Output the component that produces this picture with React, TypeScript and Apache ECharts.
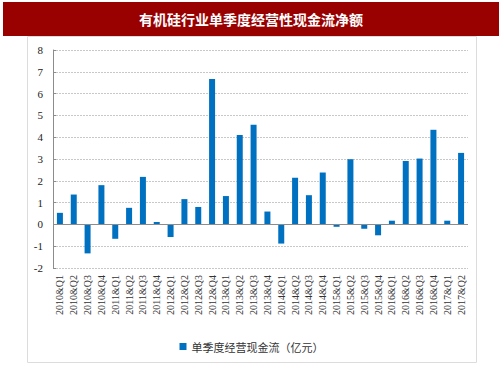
import React, { useEffect, useRef } from "react";
import * as echarts from "echarts";

const categories = [
  "2010&Q1", "2010&Q2", "2010&Q3", "2010&Q4",
  "2011&Q1", "2011&Q2", "2011&Q3", "2011&Q4",
  "2012&Q1", "2012&Q2", "2012&Q3", "2012&Q4",
  "2013&Q1", "2013&Q2", "2013&Q3", "2013&Q4",
  "2014&Q1", "2014&Q2", "2014&Q3", "2014&Q4",
  "2015&Q1", "2015&Q2", "2015&Q3", "2015&Q4",
  "2016&Q1", "2016&Q2", "2016&Q3", "2016&Q4",
  "2017&Q1", "2017&Q2",
];

const cashFlow = [
  0.53, 1.37, -1.33, 1.8,
  -0.66, 0.76, 2.18, 0.11,
  -0.58, 1.16, 0.8, 6.67,
  1.3, 4.1, 4.57, 0.59,
  -0.88, 2.14, 1.34, 2.38,
  -0.11, 2.99, -0.2, -0.5,
  0.17, 2.91, 3.02, 4.34,
  0.17, 3.28,
];

const seriesName = "单季度经营现金流（亿元）";
const title = "有机硅行业单季度经营性现金流净额";

export default function App() {
  const ref = useRef<HTMLDivElement>(null);
  useEffect(() => {
    if (!ref.current) return;
    const chart = echarts.init(ref.current, undefined, { renderer: "svg" });
    chart.setOption({
      animation: false,
      backgroundColor: "#ffffff",
      graphic: [
        {
          type: "rect",
          shape: { x: 27.5, y: 36.5, width: 449, height: 326 },
          style: { fill: "#ffffff", stroke: "#dcdcdc", lineWidth: 1 },
          z: -10,
        },
        {
          type: "rect",
          shape: { x: 3, y: 2, width: 496, height: 34 },
          style: { fill: "#990000" },
          z: 10,
        },
        {
          type: "text",
          x: 251,
          y: 19,
          style: {
            text: title,
            fill: "#ffffff",
            font: "bold 14px 'Noto Sans CJK SC', sans-serif",
            textAlign: "center",
            textVerticalAlign: "middle",
          },
          z: 11,
        },
      ],
      grid: { left: 53, right: 35, top: 50, bottom: 110 },
      legend: {
        bottom: 21,
        left: "center",
        itemWidth: 7,
        itemHeight: 7,
        itemGap: 6,
        icon: "rect",
        textStyle: {
          fontSize: 11,
          color: "#333333",
          fontFamily: "'Noto Sans CJK SC', serif",
        },
        data: [seriesName],
      },
      xAxis: {
        type: "category",
        data: categories,
        axisLine: { show: false, onZero: false },
        axisTick: { show: false },
        axisLabel: {
          rotate: 90,
          interval: 0,
          fontSize: 10,
          margin: 7,
          color: "#333333",
          fontFamily: "'Liberation Serif', serif",
        },
      },
      yAxis: {
        type: "value",
        min: -2,
        max: 8,
        interval: 1,
        axisLine: { show: true, lineStyle: { color: "#8c8c8c", width: 1 } },
        axisTick: { show: true, length: 3, inside: true, lineStyle: { color: "#8c8c8c" } },
        axisLabel: {
          fontSize: 11,
          color: "#222222",
          margin: 10,
          fontFamily: "'Liberation Serif', serif",
        },
        splitLine: {
          show: true,
          lineStyle: { color: "#c8c8c8", type: [2, 1], width: 1 },
        },
      },
      series: [
        {
          name: seriesName,
          type: "bar",
          data: cashFlow,
          barWidth: 6,
          itemStyle: { color: "#0070C0" },
          markLine: {
            silent: true,
            symbol: "none",
            label: { show: false },
            lineStyle: { color: "#8c8c8c", type: "solid", width: 1 },
            data: [{ yAxis: 0 }],
          },
        },
      ],
    });
    return () => chart.dispose();
  }, []);
  return (
    <div
      ref={ref}
      style={{ position: "absolute", left: 0, top: 0, width: 503, height: 378 }}
    />
  );
}
